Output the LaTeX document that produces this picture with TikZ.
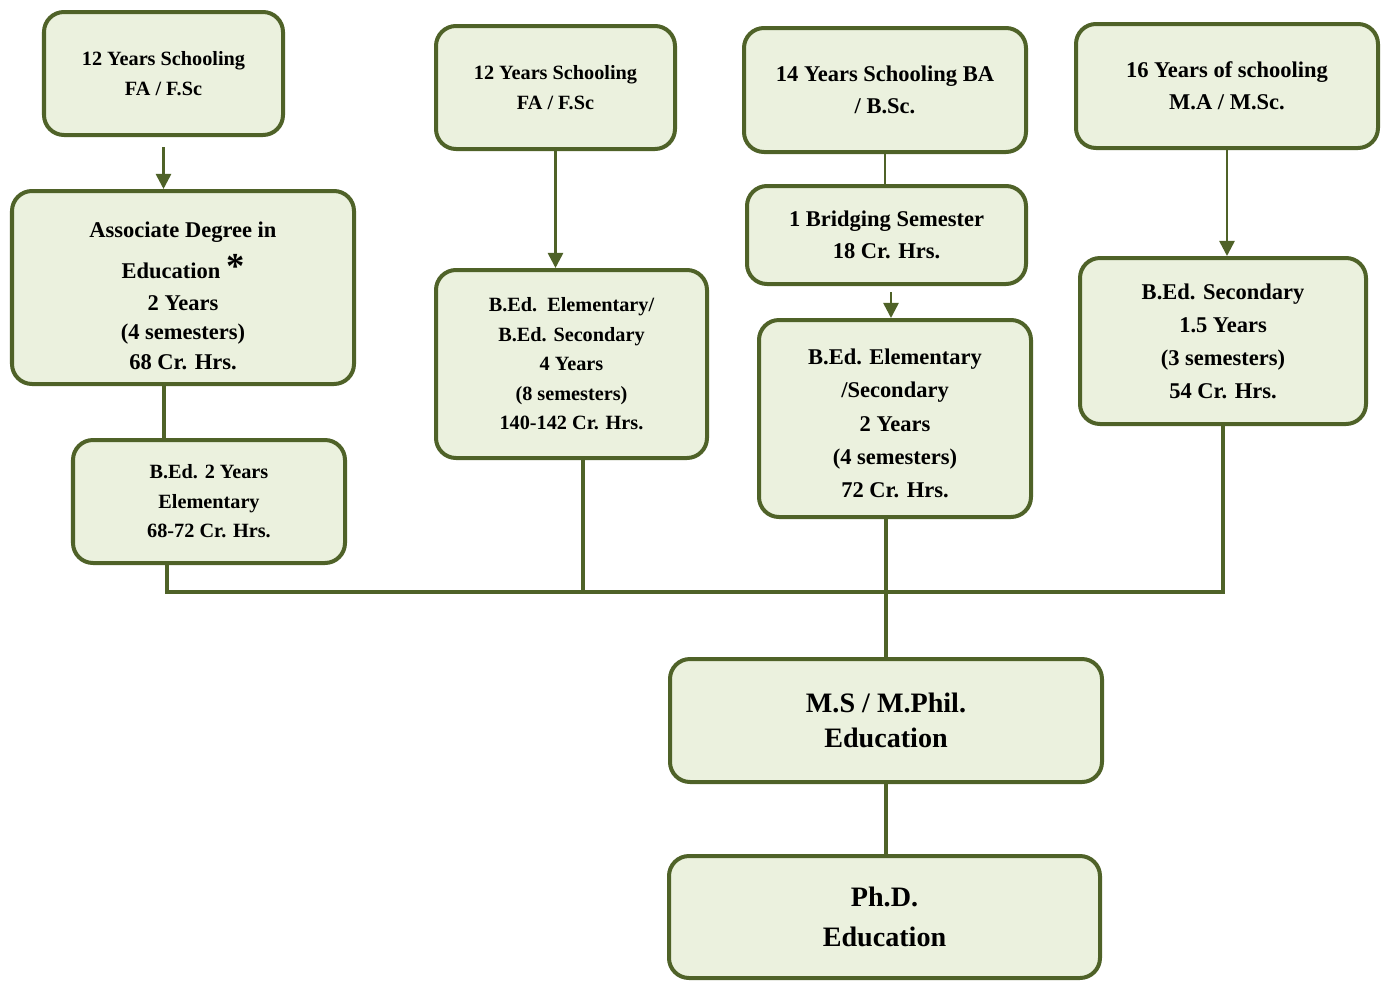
\documentclass[tikz,border=0pt]{standalone}
\usepackage{fontspec}
\setmainfont{Liberation Serif}
\usetikzlibrary{arrows.meta}
\definecolor{olivedark}{HTML}{4F6228}
\definecolor{olivepale}{HTML}{EBF1DE}
\tikzset{
	stage/.style 2 args={draw=olivedark, fill=olivepale, line width=0.1cm, rounded corners=0.5cm, align=center, inner sep=0pt, minimum width=#1*0.025cm, minimum height=#2*0.025cm},
	fsmall/.style={font=\fontsize{14.4}{21}\selectfont\bfseries},
	fmid/.style={font=\fontsize{16}{23}\selectfont\bfseries},
	fbig/.style={font=\fontsize{20}{25}\selectfont\bfseries},
	link/.style={draw=olivedark, line width=0.065cm, -{Triangle[length=0.38cm, width=0.38cm]}},
	thinlink/.style={draw=olivedark, line width=0.05cm},
	bus/.style={draw=olivedark, line width=0.1cm}
}
\begin{document}
\begin{tikzpicture}[x=0.025cm, y=-0.025cm]
			%%%%% START %%%%%
			\useasboundingbox (0,0) rectangle (1384,982);
			
			% first row
			\node[stage={239}{123}, fsmall] (fa) at (163.5,73.5) {12 Years Schooling\\FA / F.Sc};
			\node[stage={239}{123}, fsmall] (fb) at (555.5,87.5) {12 Years Schooling\\FA / F.Sc};
			\node[stage={282}{124}, fmid] (fc) at (885,90) {14 Years Schooling BA\\/ B.Sc.};
			\node[stage={302}{124}, fmid] (fd) at (1227,86) {16 Years of schooling\\M.A / M.Sc.};
			
			% programmes
			\node[stage={342}{193}, font=\fontsize{16}{21}\selectfont\bfseries] (assoc) at (183,287.5) {\rule{0pt}{23pt}Associate Degree in\\[8pt]Education~\smash{\fontsize{26}{26}\selectfont *}\\[1.5pt]2 Years\\(4 semesters)\\68 Cr. Hrs.};
			\node[stage={272}{123}, fsmall] (bedtwo) at (209,501.5) {B.Ed. 2 Years\\Elementary\\68-72 Cr. Hrs.};
			\node[stage={271}{188}, fsmall] (bedfour) at (571.5,364) {B.Ed.\ \ Elementary/\\B.Ed. Secondary\\4 Years\\(8 semesters)\\140-142 Cr. Hrs.};
			\node[stage={279}{98}, fmid] (bridge) at (886.5,235) {1 Bridging Semester\\18 Cr. Hrs.};
			\node[stage={272}{197}, font=\fontsize{16}{23.5}\selectfont\bfseries] (bedtwoyr) at (895,418.5) {\rule{0pt}{18pt}B.Ed. Elementary\\/Secondary\\2 Years\\(4 semesters)\\72 Cr. Hrs.};
			\node[stage={286}{166}, font=\fontsize{16}{23.5}\selectfont\bfseries] (bedsec) at (1223,341) {B.Ed. Secondary\\1.5 Years\\(3 semesters)\\54 Cr. Hrs.};
			
			% higher degrees
			\node[stage={432}{123}, fbig] (msphil) at (886,720.5) {M.S / M.Phil.\\Education};
			\node[stage={431}{122}, font=\fontsize{20}{28.5}\selectfont\bfseries] (phd) at (884.5,917) {Ph.D.\\Education};
			
			% arrows
			\draw[link, shorten <=0.25cm] (fa.south) -- (fa.south |- assoc.north);
			\draw[link] (fb.south) -- (fb.south |- bedfour.north);
			\draw[thinlink] (fc.south) -- (fc.south |- bridge.north);
			\draw[link, shorten <=0.15cm] (bridge.south -| 891,0) -- (bedtwoyr.north -| 891,0);
			\draw[link] (fd.south) -- (fd.south |- bedsec.north);
			\draw[bus] (fa.south |- assoc.south) -- (fa.south |- bedtwo.north);
			
			% joining line
			\coordinate (jl) at (167,592);
			\coordinate (je) at (583,592);
			\draw[bus] (bedtwo.south -| jl) -- (jl) -- (jl -| bedsec) -- (bedsec.south);
			\draw[bus] (bedfour.south -| je) -- (je);
			\draw[bus] (bedtwoyr.south -| msphil) -- (msphil.north);
			\draw[bus] (msphil.south) -- (msphil.south |- phd.north);
			
			%%%%% END %%%%%
\end{tikzpicture}
\end{document}
